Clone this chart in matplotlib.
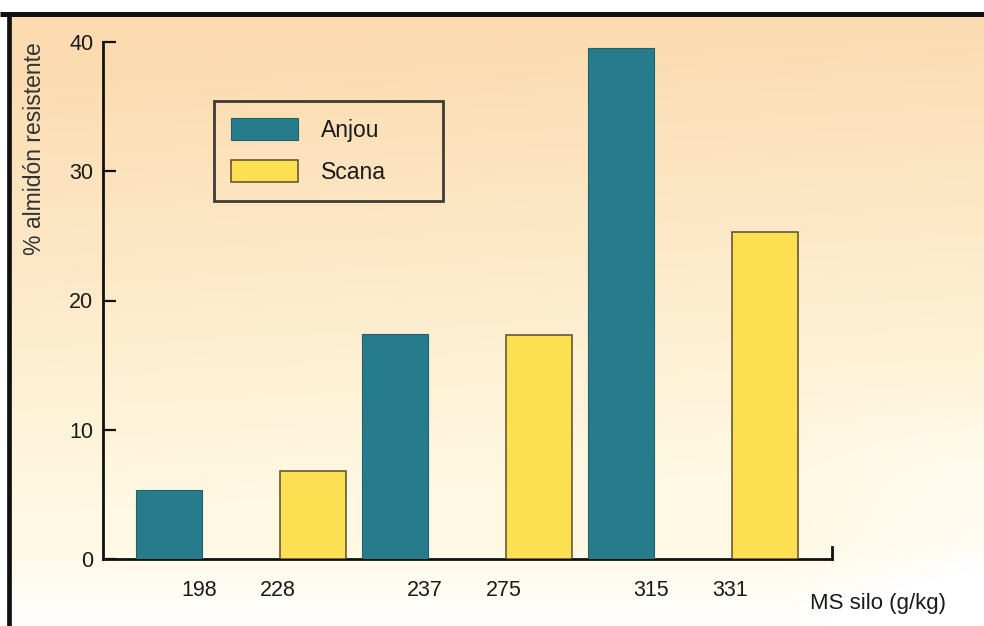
import numpy as np
import matplotlib
matplotlib.use("Agg")
import matplotlib.pyplot as plt
from matplotlib.patches import Patch

plt.rcParams['font.family'] = ['Liberation Sans', 'DejaVu Sans']

# ---- data ----
anjou_values = [5.3, 17.4, 39.5]
scana_values = [6.8, 17.3, 25.3]
anjou_labels = ['198', '237', '315']
scana_labels = ['228', '275', '331']
series_names = ['Anjou', 'Scana']
ylabel_text = '% almidón resistente'
xlabel_text = 'MS silo (g/kg)'
yticks = [0, 10, 20, 30, 40]

# ---- layout constants ----
W, H = 984, 626
group_step = 226.0
scana_offset = 144.0
bar_w = 66.0
anjou_lab_off = 30.0
scana_lab_off = -35.0

teal = '#277c8c'
yellow = '#fde052'

fig = plt.figure(figsize=(W / 100, H / 100), dpi=100)
fig.patch.set_facecolor('white')

# background gradient
bg = fig.add_axes([0, 0, 1, 1], zorder=-5)
yy, xx = np.mgrid[0:H, 0:W]
u = xx / W
v = yy / H
peach = np.array([0.985, 0.86, 0.69])
cream = np.array([1.0, 0.975, 0.89])
t = np.clip((v - 0.1) / 0.72 + 0.12 * u, 0, 1)[..., None]
img = peach * (1 - t) + cream * t
wfac = np.clip((v - 0.87) / 0.1, 0, 1) * 0.85 + np.clip((u - 0.8) / 0.2, 0, 1) * np.clip((v - 0.6) / 0.3, 0, 1) * 0.7
wfac = np.clip(wfac, 0, 1)[..., None]
img = img * (1 - wfac) + np.ones(3) * wfac
img[:12, :, :] = 1.0
img[:, :8, :] = 1.0
bg.imshow(img, extent=[0, W, H, 0], aspect='auto', interpolation='bilinear')
bg.set_xlim(0, W)
bg.set_ylim(H, 0)
bg.axis('off')
bg.plot([0, W], [13.5, 13.5], color='#111111', lw=3.6, solid_capstyle='butt')
bg.plot([8.5, 8.5], [12, H], color='#111111', lw=3.4, solid_capstyle='butt')

ax = fig.add_axes([103 / W, (H - 559) / H, (832 - 103) / W, (559 - 42) / H])
ax.set_facecolor('none')

g = np.arange(len(anjou_values))
ax_x = g * group_step
sc_x = g * group_step + scana_offset

ax.bar(ax_x, anjou_values, width=bar_w, color=teal, edgecolor='#22606b', linewidth=0.8, zorder=3)
ax.bar(sc_x, scana_values, width=bar_w, color=yellow, edgecolor='#5c4c2a', linewidth=1.1, zorder=3)

ax.set_xlim(-bar_w, 832 - 103 - bar_w)
ax.set_ylim(0, 40)

tick_pos = list(ax_x + anjou_lab_off) + list(sc_x + scana_lab_off)
tick_lab = anjou_labels + scana_labels
ax.set_xticks(tick_pos)
ax.set_xticklabels(tick_lab, fontsize=15.5, color='#1a1a1a')
ax.tick_params(axis='x', length=0, pad=15)

ax.set_yticks(yticks)
ax.set_yticklabels([str(v_) for v_ in yticks], fontsize=15.5, color='#1a1a1a')
ax.tick_params(axis='y', direction='in', length=9, width=1.6, pad=7, color='#111111')

ax.spines['top'].set_visible(False)
for s in ['left', 'bottom', 'right']:
    ax.spines[s].set_linewidth(2.0)
    ax.spines[s].set_color('#111111')
ax.spines['right'].set_bounds(0, 0.9)

ax.set_ylabel(ylabel_text, fontsize=16.5, color='#333333', loc='top')
ax.yaxis.set_label_coords(-0.078, 1.0)

ax.text((810 - 103) / 729, (559 - 604) / 517, xlabel_text, transform=ax.transAxes,
        fontsize=16, color='#1a1a1a', ha='left', va='center')

handles = [Patch(facecolor=teal, edgecolor='#22606b', linewidth=0.8),
           Patch(facecolor=yellow, edgecolor='#5c4c2a', linewidth=1.1)]
leg = ax.legend(handles, series_names, loc='upper left', mode='expand',
                bbox_to_anchor=((214 - 103) / 729, 0.4, (443 - 214) / 729, (559 - 101) / 517 - 0.4),
                borderaxespad=0, fontsize=16.5, handlelength=2.9, handleheight=1.1,
                labelspacing=0.8, handletextpad=1.0, borderpad=0.75,
                frameon=True, fancybox=False, edgecolor='#111111', facecolor='none')
leg.get_frame().set_linewidth(2.0)
for txt in leg.get_texts():
    txt.set_color('#1a1a1a')

fig.savefig('out.png', dpi=100)
